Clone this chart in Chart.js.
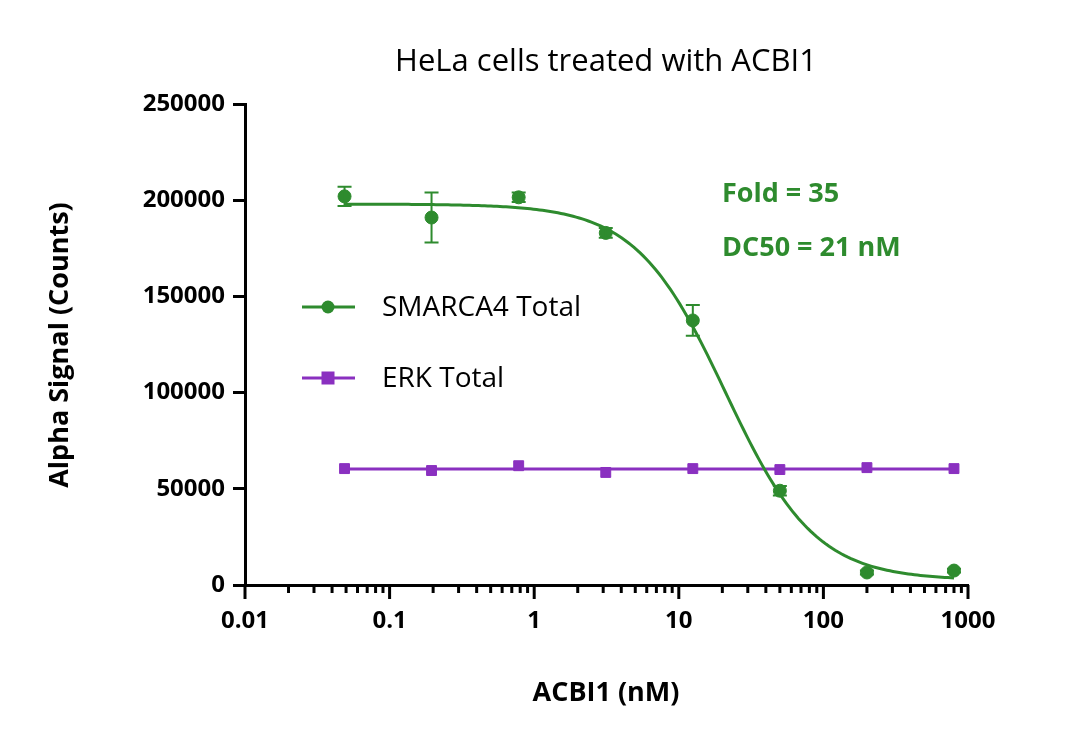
<!DOCTYPE html>
<html><head><meta charset="utf-8">
<script src="https://cdn.jsdelivr.net/npm/chart.js@4"></script>
<style>html,body{margin:0;padding:0;background:#fff}#w{width:1080px;height:754px}</style>
</head><body><div id="w"><canvas id="c"></canvas></div>
<script>
const concentrations = [0.0488, 0.195, 0.781, 3.125, 12.5, 50, 200, 800];
const smarcaValues = [202000, 191000, 201500, 183000, 137500, 49000, 6500, 7500];
const smarcaErrors = [5000, 13000, 2500, 2500, 8000, 2500, 1000, 1000];
const erkValues = [60500, 59500, 62000, 58500, 60500, 60000, 61000, 60500];
const fitParams = [2500, 198000, 21, 1.4]; // bottom, top, DC50, hill
const erkFitLevel = [60300];
const xTickLabels = ['0.01', '0.1', '1', '10', '100', '1000'];

const green = '#2e8b2e', purple = '#8a30c0';
const curve = [];
for (let i = 0; i <= 200; i++) {
  const x = Math.pow(10, Math.log10(0.0488) + i * (Math.log10(800) - Math.log10(0.0488)) / 200);
  const [b, t, c, h] = fitParams;
  curve.push({x, y: b + (t - b) / (1 + Math.pow(x / c, h))});
}
const font = "'Open Sans', 'DejaVu Sans', sans-serif";

const deco = {
  id: 'deco',
  afterDatasetsDraw(ch) {
    const ctx = ch.ctx, xs = ch.scales.x, ys = ch.scales.y;
    ctx.save();
    ctx.strokeStyle = green; ctx.lineWidth = 2;
    smarcaValues.forEach((v, i) => {
      const px = xs.getPixelForValue(concentrations[i]);
      const y1 = ys.getPixelForValue(v + smarcaErrors[i]), y2 = ys.getPixelForValue(v - smarcaErrors[i]);
      ctx.beginPath();
      ctx.moveTo(px, y1); ctx.lineTo(px, y2);
      ctx.moveTo(px - 7, y1); ctx.lineTo(px + 7, y1);
      ctx.moveTo(px - 7, y2); ctx.lineTo(px + 7, y2);
      ctx.stroke();
    });
    ctx.restore();
  },
  afterDraw(ch) {
    const ctx = ch.ctx, xs = ch.scales.x, a = ch.chartArea;
    ctx.save();
    ctx.strokeStyle = '#000'; ctx.lineWidth = 3;
    for (let d = -2; d <= 3; d++) {
      for (let m = 1; m <= 9; m++) {
        const v = m * Math.pow(10, d);
        if (v > 1000) break;
        const px = xs.getPixelForValue(v);
        ctx.beginPath(); ctx.moveTo(px, a.bottom); ctx.lineTo(px, a.bottom + (m === 1 ? 14 : 8)); ctx.stroke();
      }
    }
    ctx.fillStyle = '#000';
    ctx.textAlign = 'center'; ctx.textBaseline = 'middle';
    ctx.font = '31px ' + font;
    ctx.fillText('HeLa cells treated with ACBI1', 606, 62);
    ctx.font = 'bold 27px ' + font;
    ctx.fillText('ACBI1 (nM)', 606, 693);
    ctx.save(); ctx.translate(60, 345); ctx.rotate(-Math.PI / 2);
    ctx.fillText('Alpha Signal (Counts)', 0, 0); ctx.restore();
    ctx.fillStyle = green; ctx.textAlign = 'left';
    ctx.font = 'bold 27px ' + font;
    ctx.fillText('Fold = 35', 722, 194);
    ctx.fillText('DC50 = 21 nM', 722, 248);
    const leg = [[307, 'SMARCA4 Total', green, 'c'], [378, 'ERK Total', purple, 's']];
    leg.forEach(([y, t, col, sh]) => {
      ctx.strokeStyle = col; ctx.fillStyle = col; ctx.lineWidth = 3;
      ctx.beginPath(); ctx.moveTo(302, y); ctx.lineTo(355, y); ctx.stroke();
      if (sh === 'c') { ctx.beginPath(); ctx.arc(328, y, 6.5, 0, Math.PI * 2); ctx.fill(); }
      else ctx.fillRect(321.5, y - 6.5, 13, 13);
      ctx.fillStyle = '#000'; ctx.font = '28px ' + font;
      ctx.fillText(t, 382, y + 1);
    });
    ctx.restore();
  }
};

new Chart(document.getElementById('c'), {
  type: 'scatter',
  data: {datasets: [
    {data: curve, showLine: true, borderColor: green, borderWidth: 3, pointRadius: 0, order: 3},
    {data: [{x: 0.0488, y: erkFitLevel[0]}, {x: 800, y: erkFitLevel[0]}], showLine: true, borderColor: purple, borderWidth: 3, pointRadius: 0, order: 4},
    {data: concentrations.map((x, i) => ({x, y: smarcaValues[i]})), pointStyle: 'circle', pointRadius: 6.5, backgroundColor: green, borderColor: green, order: 1},
    {data: concentrations.map((x, i) => ({x, y: erkValues[i]})), pointStyle: 'rect', pointRadius: 7, backgroundColor: purple, borderColor: purple, order: 2}
  ]},
  options: {
    responsive: true, maintainAspectRatio: false, animation: false,
    layout: {padding: {top: 104, right: 112, left: 20, bottom: 0}},
    plugins: {legend: {display: false}, tooltip: {enabled: false}},
    scales: {
      x: {type: 'logarithmic', min: 0.01, max: 1000,
        afterFit: s => { s.height = 754 - 585; },
        afterBuildTicks: s => { s.ticks = xTickLabels.map(v => ({value: parseFloat(v)})); },
        grid: {display: false, drawTicks: false},
        border: {color: '#000', width: 3},
        ticks: {padding: 22, color: '#000', font: {family: font, size: 24, weight: 'bold'}, callback: (v, i) => xTickLabels[i], maxRotation: 0}
      },
      y: {min: 0, max: 250000,
        afterFit: s => { s.width = 245 - 20; },
        grid: {drawOnChartArea: false, drawTicks: true, tickLength: 12, color: '#000', lineWidth: 3},
        border: {color: '#000', width: 3},
        ticks: {stepSize: 50000, padding: 8, color: '#000', font: {family: font, size: 24, weight: 'bold'}, callback: v => String(v)}
      }
    }
  },
  plugins: [deco]
});
</script></body></html>
